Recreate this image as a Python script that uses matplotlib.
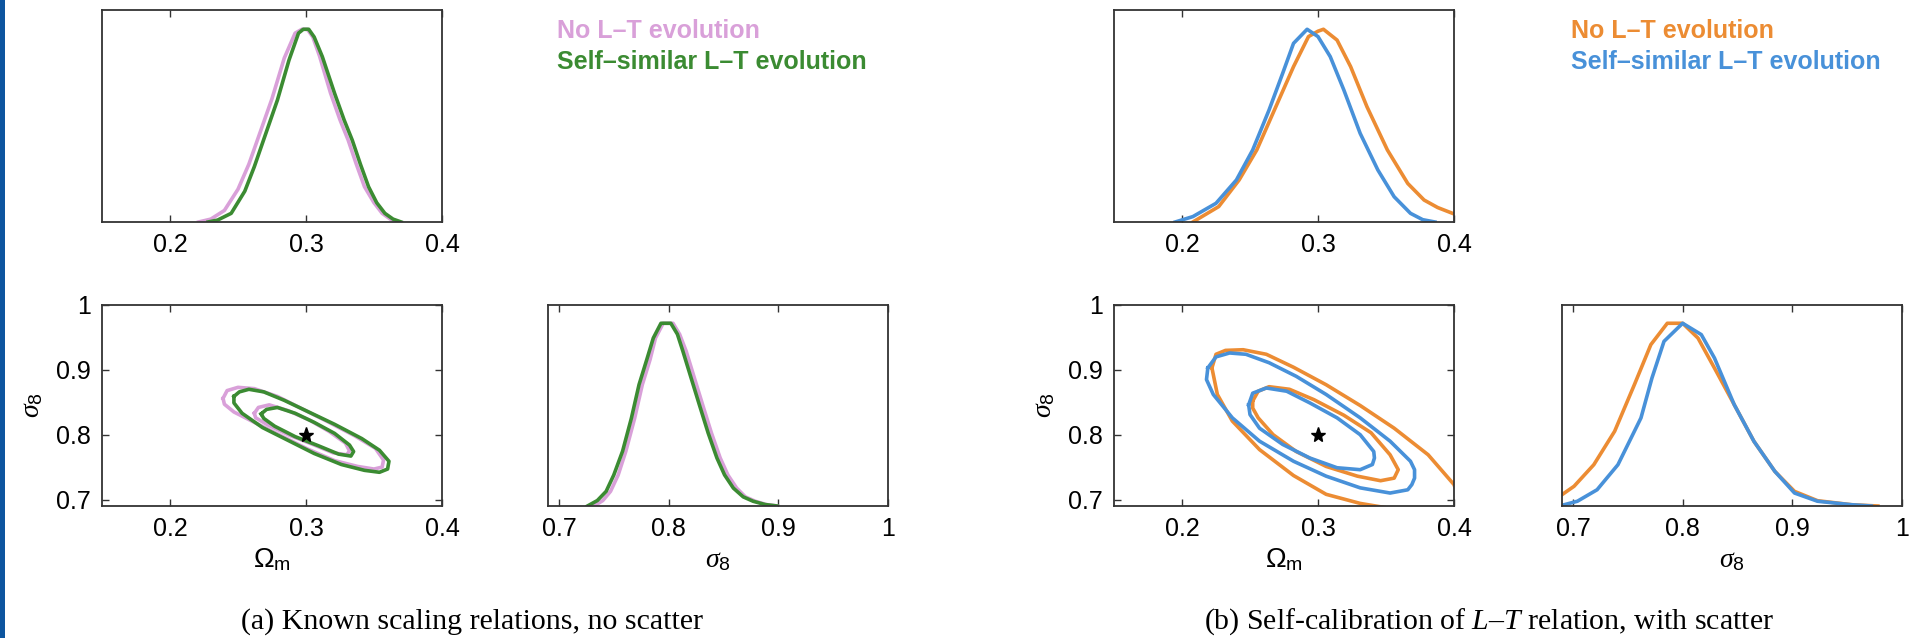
import numpy as np
import matplotlib.pyplot as plt
from matplotlib.patches import Rectangle

plt.rcParams['font.family'] = 'Liberation Sans'
plt.rcParams['mathtext.fontset'] = 'custom'
plt.rcParams['mathtext.rm'] = 'Liberation Sans'
plt.rcParams['mathtext.it'] = 'Liberation Serif:italic'
plt.rcParams['mathtext.bf'] = 'Liberation Sans:bold'

pink = '#d9a0d9'
green = '#3b8b32'
orange = '#ec8c33'
blue = '#4891d9'

# ---------------- (a) known scaling relations, no scatter ----------------
# marginal posterior of Omega_m
a_om_none_x = [0.221, 0.230, 0.240, 0.250, 0.258, 0.266, 0.275, 0.284, 0.292, 0.297, 0.301,
               0.305, 0.310, 0.318, 0.325, 0.331, 0.337, 0.343, 0.350, 0.356, 0.362, 0.368]
a_om_none_p = [0.0, 0.015, 0.06, 0.17, 0.30, 0.46, 0.64, 0.85, 0.98, 1.0, 1.0,
               0.96, 0.86, 0.67, 0.53, 0.425, 0.30, 0.183, 0.10, 0.045, 0.015, 0.0]
a_om_ss_x = [0.228, 0.235, 0.245, 0.255, 0.262, 0.270, 0.279, 0.2875, 0.2945, 0.298, 0.302,
             0.306, 0.312, 0.321, 0.328, 0.334, 0.340, 0.346, 0.352, 0.358, 0.364, 0.370]
a_om_ss_p = [0.0, 0.01, 0.045, 0.16, 0.287, 0.45, 0.633, 0.84, 0.98, 1.0, 1.0,
             0.96, 0.858, 0.668, 0.53, 0.425, 0.30, 0.183, 0.10, 0.045, 0.015, 0.0]

# marginal posterior of sigma_8
a_s8_none_x = [0.732, 0.740, 0.747, 0.754, 0.761, 0.769, 0.776, 0.783, 0.788, 0.795, 0.804, 0.810,
               0.816, 0.823, 0.831, 0.839, 0.847, 0.854, 0.862, 0.870, 0.879, 0.889, 0.899]
a_s8_none_p = [0.0, 0.03, 0.08, 0.17, 0.30, 0.48, 0.664, 0.80, 0.919, 1.0, 1.0, 0.94,
               0.847, 0.71, 0.554, 0.40, 0.263, 0.17, 0.098, 0.05, 0.026, 0.008, 0.0]
a_s8_ss_x = [0.726, 0.735, 0.743, 0.750, 0.758, 0.766, 0.773, 0.780, 0.786, 0.793, 0.802, 0.808,
             0.813, 0.820, 0.828, 0.836, 0.844, 0.851, 0.859, 0.868, 0.877, 0.888, 0.899]
a_s8_ss_p = [0.0, 0.03, 0.08, 0.17, 0.30, 0.48, 0.664, 0.80, 0.919, 1.0, 1.0, 0.94,
             0.847, 0.71, 0.554, 0.40, 0.263, 0.17, 0.098, 0.05, 0.026, 0.008, 0.0]

# 68% / 95% contours in the (Omega_m, sigma_8) plane
a_none_in_om = [0.262, 0.265, 0.273, 0.287, 0.303, 0.317, 0.329, 0.332, 0.330, 0.320, 0.305, 0.288, 0.272, 0.263]
a_none_in_s8 = [0.833, 0.842, 0.846, 0.837, 0.822, 0.805, 0.787, 0.775, 0.769, 0.772, 0.785, 0.799, 0.815, 0.826]
a_none_out_om = [0.239, 0.242, 0.250, 0.262, 0.279, 0.296, 0.316, 0.336, 0.351, 0.357, 0.356, 0.350,
                 0.338, 0.321, 0.301, 0.282, 0.262, 0.247, 0.240]
a_none_out_s8 = [0.856, 0.868, 0.873, 0.871, 0.859, 0.841, 0.820, 0.798, 0.779, 0.761, 0.750, 0.747,
                 0.751, 0.760, 0.778, 0.798, 0.819, 0.835, 0.847]
a_ss_in_om = [0.267, 0.271, 0.279, 0.292, 0.306, 0.321, 0.332, 0.335, 0.333, 0.324, 0.309, 0.292, 0.277, 0.269]
a_ss_in_s8 = [0.832, 0.839, 0.842, 0.833, 0.819, 0.802, 0.784, 0.774, 0.767, 0.770, 0.783, 0.797, 0.813, 0.825]
a_ss_out_om = [0.247, 0.251, 0.258, 0.269, 0.284, 0.301, 0.321, 0.341, 0.354, 0.361, 0.360, 0.354,
               0.343, 0.326, 0.306, 0.287, 0.268, 0.253, 0.247]
a_ss_out_s8 = [0.859, 0.866, 0.870, 0.866, 0.853, 0.836, 0.816, 0.794, 0.776, 0.759, 0.747, 0.742,
               0.745, 0.754, 0.771, 0.791, 0.811, 0.833, 0.849]

# ---------------- (b) self-calibration of L-T, with scatter ----------------
b_om_none_x = [0.208, 0.227, 0.242, 0.255, 0.269, 0.282, 0.293, 0.300, 0.304, 0.314, 0.324,
               0.336, 0.351, 0.366, 0.378, 0.388, 0.400]
b_om_none_p = [0.0, 0.08, 0.218, 0.374, 0.598, 0.806, 0.962, 0.99, 1.0, 0.944, 0.806,
               0.598, 0.374, 0.20, 0.114, 0.075, 0.042]
b_om_ss_x = [0.195, 0.208, 0.225, 0.240, 0.252, 0.264, 0.274, 0.282, 0.292, 0.300, 0.309,
             0.319, 0.331, 0.344, 0.356, 0.368, 0.377, 0.386]
b_om_ss_p = [0.0, 0.028, 0.097, 0.218, 0.374, 0.581, 0.771, 0.927, 1.0, 0.962, 0.858,
             0.685, 0.46, 0.27, 0.131, 0.045, 0.012, 0.0]

b_s8_none_x = [0.690, 0.701, 0.719, 0.738, 0.756, 0.771, 0.786, 0.800, 0.814, 0.829, 0.847,
               0.865, 0.884, 0.902, 0.923, 0.954, 0.978]
b_s8_none_p = [0.062, 0.108, 0.226, 0.409, 0.664, 0.883, 1.0, 1.0, 0.919, 0.755, 0.555,
               0.354, 0.19, 0.08, 0.029, 0.007, 0.0]
b_s8_ss_x = [0.692, 0.704, 0.722, 0.741, 0.762, 0.772, 0.783, 0.800, 0.817, 0.829, 0.847,
             0.865, 0.884, 0.902, 0.923, 0.954, 0.972]
b_s8_ss_p = [0.007, 0.026, 0.089, 0.226, 0.482, 0.70, 0.901, 1.0, 0.938, 0.81, 0.555,
             0.354, 0.19, 0.071, 0.026, 0.007, 0.0]

b_none_in_om = [0.252, 0.256, 0.264, 0.279, 0.297, 0.319, 0.339, 0.353, 0.359, 0.356, 0.346,
                0.329, 0.306, 0.284, 0.267, 0.256, 0.252]
b_none_in_s8 = [0.852, 0.867, 0.874, 0.870, 0.854, 0.830, 0.803, 0.769, 0.746, 0.733, 0.729,
                0.736, 0.751, 0.774, 0.800, 0.826, 0.841]
b_none_out_om = [0.222, 0.225, 0.232, 0.245, 0.262, 0.282, 0.306, 0.331, 0.356, 0.381, 0.400,
                 0.404, 0.398, 0.368, 0.351, 0.331, 0.306, 0.282, 0.257, 0.237, 0.226]
b_none_out_s8 = [0.903, 0.924, 0.930, 0.931, 0.924, 0.904, 0.877, 0.845, 0.810, 0.769, 0.723,
                 0.700, 0.679, 0.674, 0.687, 0.694, 0.708, 0.737, 0.777, 0.821, 0.862]
b_ss_in_om = [0.249, 0.252, 0.262, 0.277, 0.294, 0.314, 0.331, 0.341, 0.3415, 0.340, 0.331,
              0.314, 0.294, 0.274, 0.257, 0.250]
b_ss_in_s8 = [0.846, 0.864, 0.872, 0.867, 0.849, 0.826, 0.800, 0.774, 0.764, 0.754, 0.746,
              0.749, 0.764, 0.785, 0.810, 0.831]
b_ss_out_om = [0.219, 0.225, 0.235, 0.247, 0.264, 0.284, 0.306, 0.331, 0.353, 0.368, 0.371,
               0.371, 0.369, 0.366, 0.353, 0.331, 0.306, 0.282, 0.257, 0.237, 0.223, 0.218]
b_ss_out_s8 = [0.903, 0.920, 0.926, 0.924, 0.911, 0.890, 0.862, 0.826, 0.790, 0.759, 0.746,
               0.733, 0.723, 0.715, 0.710, 0.718, 0.736, 0.759, 0.790, 0.826, 0.862, 0.885]

fiducial = (0.3, 0.8)
labels = ['No L\u2013T evolution', 'Self\u2013similar L\u2013T evolution']


def style(ax):
    ax.tick_params(direction='in', top=True, right=True, length=5, width=1,
                   color='#333333', labelsize=18, pad=8)
    for s in ax.spines.values():
        s.set_linewidth(1.3)
        s.set_color('#333333')


def closed(a):
    return np.append(a, a[0])


fig = plt.figure(figsize=(19.14, 6.38), dpi=100, facecolor='white')

panels = [
    dict(x0=102, x1=548, cols=(pink, green),
         om=((a_om_none_x, a_om_none_p), (a_om_ss_x, a_om_ss_p)),
         s8=((a_s8_none_x, a_s8_none_p), (a_s8_ss_x, a_s8_ss_p)),
         cont=(((a_none_in_om, a_none_in_s8), (a_none_out_om, a_none_out_s8)),
               ((a_ss_in_om, a_ss_in_s8), (a_ss_out_om, a_ss_out_s8))),
         leg_x=557, cap_x=472,
         caption='(a) Known scaling relations, no scatter'),
    dict(x0=1114, x1=1562, cols=(orange, blue),
         om=((b_om_none_x, b_om_none_p), (b_om_ss_x, b_om_ss_p)),
         s8=((b_s8_none_x, b_s8_none_p), (b_s8_ss_x, b_s8_ss_p)),
         cont=(((b_none_in_om, b_none_in_s8), (b_none_out_om, b_none_out_s8)),
               ((b_ss_in_om, b_ss_in_s8), (b_ss_out_om, b_ss_out_s8))),
         leg_x=1571, cap_x=1489,
         caption='(b) Self-calibration of $L$\u2013$T$ relation, with scatter'),
]

W, H = 1914, 638
lw = 2.6
for p in panels:
    # top: Omega_m marginal
    ax1 = fig.add_axes([p['x0'] / W, 1 - 222 / H, 340 / W, 212 / H])
    for (x, y), c in zip(p['om'], p['cols']):
        ax1.plot(x, y, color=c, lw=lw)
    ax1.set_xlim(0.15, 0.4)
    ax1.set_ylim(0, 1.1)
    ax1.set_xticks([0.2, 0.3, 0.4])
    ax1.set_xticklabels(['0.2', '0.3', '0.4'])
    ax1.set_yticks([])
    style(ax1)

    # bottom left: joint contours
    ax2 = fig.add_axes([p['x0'] / W, 1 - 506 / H, 340 / W, 201 / H])
    for levels, c in zip(p['cont'], p['cols']):
        for om, s8 in levels:
            ax2.plot(closed(om), closed(s8), color=c, lw=lw, solid_joinstyle='round')
    ax2.plot(*fiducial, marker='*', color='black', ms=11, ls='none')
    ax2.set_xlim(0.15, 0.4)
    ax2.set_ylim(0.69, 1.0)
    ax2.set_xticks([0.2, 0.3, 0.4])
    ax2.set_xticklabels(['0.2', '0.3', '0.4'])
    ax2.set_yticks([0.7, 0.8, 0.9, 1.0])
    ax2.set_yticklabels(['0.7', '0.8', '0.9', '1'])
    ax2.set_xlabel(r'$\Omega_{\mathrm{m}}$', fontsize=20, labelpad=4)
    ax2.set_ylabel(r'$\sigma_8$', fontsize=20, labelpad=8)
    style(ax2)

    # bottom right: sigma_8 marginal
    ax3 = fig.add_axes([p['x1'] / W, 1 - 506 / H, 340 / W, 201 / H])
    for (x, y), c in zip(p['s8'], p['cols']):
        ax3.plot(x, y, color=c, lw=lw)
    ax3.set_xlim(0.69, 1.0)
    ax3.set_ylim(0, 1.1)
    ax3.set_xticks([0.7, 0.8, 0.9, 1.0])
    ax3.set_xticklabels(['0.7', '0.8', '0.9', '1'])
    ax3.set_yticks([])
    ax3.set_xlabel(r'$\sigma_8$', fontsize=20, labelpad=4)
    style(ax3)

    # legend text
    for i, (lab, c) in enumerate(zip(labels, p['cols'])):
        fig.text(p['leg_x'] / W, 1 - (31 + 31 * i) / H, lab, color=c,
                 fontsize=18, fontweight='bold', va='center', ha='left')

    fig.text(p['cap_x'] / W, 1 - 622 / H, p['caption'], family='Liberation Serif',
             fontsize=21.5, ha='center', va='center')

# blue rule on the left edge
fig.patches.append(Rectangle((0, 0), 5 / W, 1, transform=fig.transFigure,
                             facecolor='#0d559f', edgecolor='none'))

fig.savefig('out.png', dpi=100, facecolor='white')
